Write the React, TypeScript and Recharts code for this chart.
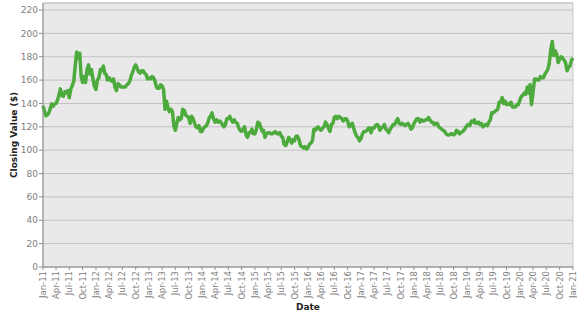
import { LineChart, Line, XAxis, YAxis, CartesianGrid, ReferenceArea } from 'recharts';

// sampled on the 1st, 11th and 21st of each month
const sampleDays = [1, 11, 21];
const years = [2011, 2012, 2013, 2014, 2015, 2016, 2017, 2018, 2019, 2020];

const closes2011 = [138, 133.5, 129.5, 130.5, 132, 136, 139.5, 137.5, 139.5, 140, 143, 147, 152.5, 147, 146, 150, 149, 151, 145, 152, 155, 159, 172, 184, 179, 183, 163, 158, 163, 158, 169, 173, 165, 169, 161, 155];
const closes2012 = [152, 160, 162, 169, 168, 172, 166, 165, 160, 162, 160, 159, 161, 154, 151, 157, 156, 154, 154, 154, 154, 156, 157, 159, 164, 167, 171, 173, 170, 167, 166, 168, 168, 166, 165, 161];
const closes2013 = [162, 161, 163, 162, 159, 154, 153, 153, 156, 155, 152, 135, 142, 137, 133, 135, 133, 121, 117, 123, 128, 126, 127, 135, 134, 130, 129, 128, 123, 129, 127, 123, 120, 119, 121, 116];
const closes2014 = [116, 119, 120, 121, 124, 128, 129, 132, 127, 124, 126, 124, 125, 124, 122, 120, 122, 127, 127, 129, 126, 124, 126, 124, 123, 119, 117, 116, 118, 120, 113, 111, 115, 115, 118, 114];
const closes2015 = [114, 118, 124, 123, 119, 116, 117, 111, 114, 115, 115, 114, 114, 115, 116, 114, 114, 115, 112, 111, 105, 104, 107, 111, 109, 106, 109, 108, 112, 112, 109, 104, 103, 102, 103, 101];
const closes2016 = [102, 105, 106, 108, 118, 117, 119, 120, 118, 117, 119, 120, 124, 122, 119, 116, 122, 123, 128, 129, 127, 129, 128, 127, 125, 127, 127, 125, 120, 121, 123, 119, 115, 112, 111, 108];
const closes2017 = [110, 114, 116, 116, 117, 119, 119, 115, 119, 119, 121, 122, 121, 117, 119, 120, 122, 118, 117, 115, 118, 120, 122, 122, 125, 127, 123, 122, 123, 122, 121, 122, 123, 121, 118, 119];
const closes2018 = [123, 125, 127, 127, 124, 126, 125, 125, 126, 126, 128, 126, 124, 124, 122, 123, 123, 120, 119, 118, 117, 116, 114, 113, 113, 114, 114, 113, 114, 117, 116, 114, 115, 116, 117, 119];
const closes2019 = [121, 122, 121, 125, 124, 126, 123, 123, 124, 122, 123, 120, 121, 122, 121, 124, 126, 132, 132, 133, 134, 135, 141, 141, 145, 140, 142, 139, 140, 139, 141, 137, 137, 137, 139, 139];
const closes2020 = [143, 146, 147, 149, 148, 154, 149, 156, 139, 150, 161, 161, 160, 160, 163, 162, 162, 165, 167, 169, 174, 186, 193, 181, 185, 182, 175, 178, 180, 179, 177, 175, 168, 171, 172, 177];
const closeEnd = [179];

const tickMonths = ['Jan', 'Apr', 'Jul', 'Oct'];
const monthNames = ['Jan', 'Feb', 'Mar', 'Apr', 'May', 'Jun', 'Jul', 'Aug', 'Sep', 'Oct', 'Nov', 'Dec'];
const yTicks = [0, 20, 40, 60, 80, 100, 120, 140, 160, 180, 200, 220];

const yearly = [closes2011, closes2012, closes2013, closes2014, closes2015, closes2016, closes2017, closes2018, closes2019, closes2020];

const data: { t: number; close: number }[] = [];
yearly.forEach((vals, yi) => {
  vals.forEach((v, i) => {
    data.push({ t: Date.UTC(years[yi], Math.floor(i / 3), sampleDays[i % 3]), close: v });
  });
});
data.push({ t: Date.UTC(2021, 0, 1), close: closeEnd[0] });

const xTicks: number[] = [];
years.forEach((y) => tickMonths.forEach((m) => xTicks.push(Date.UTC(y, monthNames.indexOf(m), 1))));
xTicks.push(Date.UTC(2021, 0, 1));

const start = xTicks[0];
const end = xTicks[xTicks.length - 1];

const fmtDate = (t: number) => {
  const d = new Date(t);
  return `${monthNames[d.getUTCMonth()]}-${String(d.getUTCFullYear()).slice(2)}`;
};

const FONT = '"DejaVu Sans", Verdana, sans-serif';

const DateTick = ({ x, y, payload }: any) => (
  <text
    x={x}
    y={y}
    dy="0.35em"
    transform={`rotate(-90, ${x}, ${y})`}
    textAnchor="end"
    fill="#808080"
    fontSize={8.5}
    fontFamily={FONT}
  >
    {fmtDate(payload.value)}
  </text>
);

const YTitle = ({ viewBox }: any) => {
  const cx = viewBox.x + 17;
  const cy = viewBox.y + viewBox.height / 2;
  return (
    <text x={cx} y={cy} transform={`rotate(-90, ${cx}, ${cy})`} textAnchor="middle" fontSize={9} fontWeight="bold" fill="#222" fontFamily={FONT}>
      Closing Value ($)
    </text>
  );
};

const XTitle = ({ viewBox }: any) => (
  <text x={viewBox.x + viewBox.width / 2} y={viewBox.y + 43} textAnchor="middle" fontSize={9} fontWeight="bold" fill="#222" fontFamily={FONT}>
    Date
  </text>
);

export default function App() {
  return (
    <div style={{ position: 'absolute', left: 0, top: 0, width: 577, height: 315, background: '#fff' }}>
      <LineChart width={577} height={315} data={data} margin={{ top: 3, right: 4, bottom: 0, left: 0 }}>
        <CartesianGrid vertical={false} fill="#e9e9e9" stroke="#c2c2c2" />
        <ReferenceArea x1={start} x2={end} y1={0} y2={226} fill="none" stroke="#c8c8c8" strokeWidth={1} />
        <XAxis
          dataKey="t"
          type="number"
          scale="time"
          domain={[start, end]}
          ticks={xTicks}
          interval={0}
          tick={<DateTick />}
          tickSize={3}
          tickMargin={1}
          height={48}
          stroke="#8c8c8c"
          label={<XTitle />}
        />
        <YAxis
          domain={[0, 226]}
          ticks={yTicks}
          interval={0}
          width={43}
          tickSize={4}
          tickMargin={1}
          stroke="#8c8c8c"
          tick={{ fill: '#808080', fontSize: 9, fontFamily: FONT }}
          label={<YTitle />}
        />
        <Line
          type="linear"
          dataKey="close"
          stroke="#4cab3c"
          strokeWidth={3.5}
          strokeLinejoin="round"
          dot={false}
          isAnimationActive={false}
        />
      </LineChart>
    </div>
  );
}
